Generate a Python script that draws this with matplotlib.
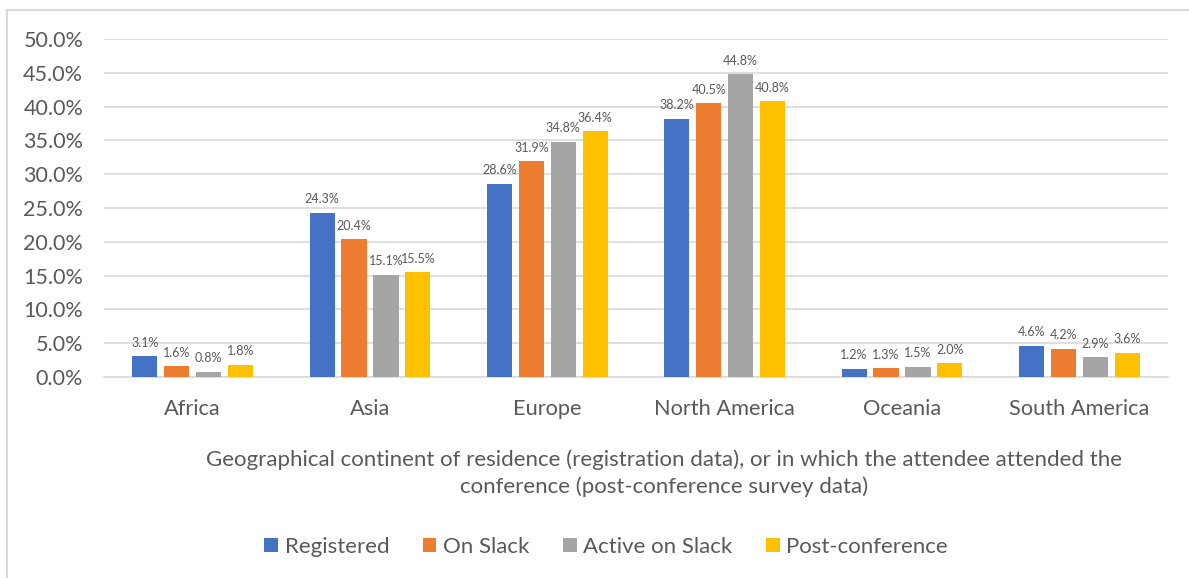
import numpy as np
import matplotlib.pyplot as plt
from matplotlib.lines import Line2D
from matplotlib.patches import Patch

plt.rcParams['font.family'] = ['Lato', 'DejaVu Sans']

continents = ["Africa", "Asia", "Europe", "North America", "Oceania", "South America"]
series_names = ["Registered", "On Slack", "Active on Slack", "Post-conference"]
registered = [3.1, 24.3, 28.6, 38.2, 1.2, 4.6]
on_slack = [1.6, 20.4, 31.9, 40.5, 1.3, 4.2]
active_on_slack = [0.8, 15.1, 34.8, 44.8, 1.5, 2.9]
post_conference = [1.8, 15.5, 36.4, 40.8, 2.0, 3.6]
colors = ["#4472C4", "#ED7D31", "#A5A5A5", "#FFC000"]

W, H = 1189, 578
fig = plt.figure(figsize=(W / 100, H / 100), dpi=100)
ax = fig.add_axes([104 / W, 1 - 377 / H, (1168 - 104) / W, (377 - 39) / H])

text_color = "#595959"
x = np.arange(len(continents))
step = 0.18
width = 0.142
all_series = [registered, on_slack, active_on_slack, post_conference]
for i, (vals, col) in enumerate(zip(all_series, colors)):
    pos = x + (i - 1.5) * step
    bars = ax.bar(pos, vals, width=width, color=col, zorder=3)
    for b, v in zip(bars, vals):
        ax.text(b.get_x() + b.get_width() / 2, v + 1.1, f"{v:.1f}%",
                ha="center", va="bottom", fontsize=9, color=text_color)

ax.set_xlim(-0.5, len(continents) - 0.5)
ax.set_ylim(0, 50)
ax.set_yticks(np.arange(0, 50.1, 5))
ax.set_yticklabels([f"{t:.1f}%" for t in np.arange(0, 50.1, 5)])
ax.set_xticks(x)
ax.set_xticklabels(continents)
ax.tick_params(axis="y", length=0, pad=15, labelsize=15.5, labelcolor=text_color)
ax.tick_params(axis="x", length=0, pad=16, labelsize=15.7, labelcolor=text_color)
ax.grid(axis="y", color="#D9D9D9", linewidth=1.2, zorder=0)
for s in ["top", "right", "left"]:
    ax.spines[s].set_visible(False)
ax.spines["bottom"].set_color("#D9D9D9")
ax.spines["bottom"].set_linewidth(1.2)

fig.text(664 / W, 1 - 460 / H,
         "Geographical continent of residence (registration data), or in which the attendee attended the",
         ha="center", va="center", fontsize=16, color=text_color)
fig.text(664 / W, 1 - 487 / H,
         "conference (post-conference survey data)",
         ha="center", va="center", fontsize=16, color=text_color)

handles = [Patch(facecolor=c, edgecolor="none") for c in colors]
fig.legend(handles, series_names, loc="center", bbox_to_anchor=(606 / W, 1 - 547 / H),
           ncol=4, frameon=False, fontsize=16, labelcolor=text_color,
           handlelength=0.62, handleheight=0.62, handletextpad=0.3, columnspacing=1.5)

# outer chart frame (top and left edges visible)
fig.add_artist(Line2D([7 / W, 1], [1 - 9.5 / H, 1 - 9.5 / H], color="#D9D9D9", linewidth=1.5))
fig.add_artist(Line2D([7 / W, 7 / W], [0, 1 - 9.5 / H], color="#D9D9D9", linewidth=1.5))

fig.savefig("out.png", dpi=100)
